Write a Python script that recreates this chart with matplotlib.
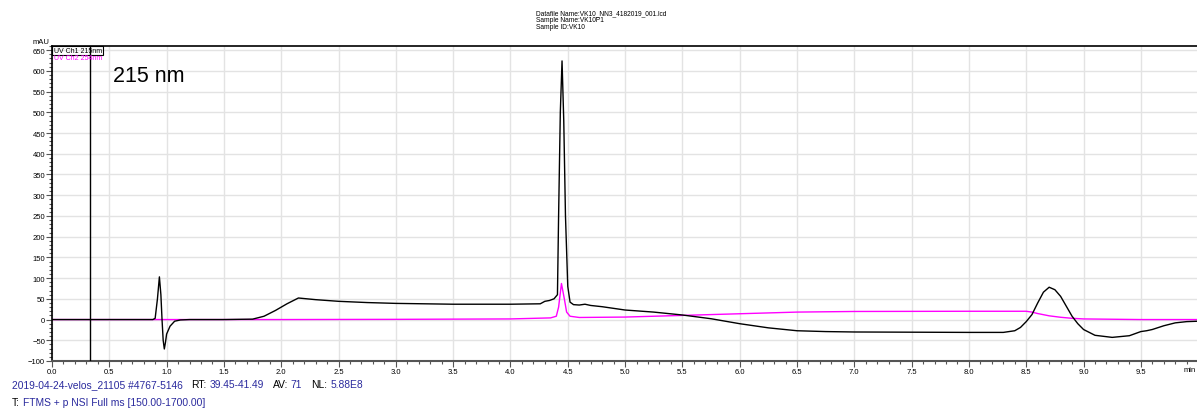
import numpy as np
import matplotlib
matplotlib.use('Agg')
import matplotlib.pyplot as plt
from matplotlib.ticker import MultipleLocator
from matplotlib.patches import Rectangle

plt.rcParams['font.family'] = ['Liberation Sans', 'DejaVu Sans']

# UV Ch1 215nm (black)
t215 = [0.0, 0.5, 0.88, 0.90, 0.92, 0.937, 0.95, 0.96, 0.97, 0.98, 0.99, 1.00, 1.03, 1.07, 1.12, 1.2,
        1.5, 1.75, 1.85, 1.95, 2.05, 2.15, 2.3, 2.5, 2.75, 3.0, 3.5, 4.0, 4.26, 4.30, 4.34, 4.38,
        4.41, 4.42, 4.435, 4.45, 4.465, 4.48, 4.50, 4.52, 4.55, 4.60, 4.65, 4.70, 4.80, 5.0, 5.25,
        5.5, 5.75, 6.0, 6.25, 6.5, 6.75, 7.0, 7.5, 8.0, 8.3, 8.4, 8.45, 8.5, 8.55, 8.6, 8.65, 8.7,
        8.75, 8.8, 8.85, 8.9, 8.95, 9.0, 9.1, 9.25, 9.4, 9.5, 9.55, 9.6, 9.7, 9.8, 9.9, 10.0]
v215 = [0, 0, 0, 3, 50, 103, 60, 0, -50, -71, -55, -35, -16, -4, -1, 0,
        0, 1, 8, 22, 38, 52, 48, 44, 41, 39, 37, 37, 38, 44, 46, 50,
        60, 250, 500, 624, 480, 250, 80, 42, 36, 35, 37, 34, 31, 23, 18,
        11, 2, -10, -20, -27, -29, -30, -30.5, -31, -31, -27, -19, -5, 12, 40, 66, 78,
        72, 56, 32, 8, -10, -24, -38, -43, -39, -29, -27, -24, -15, -8, -5, -4]

# UV Ch2 254nm (magenta)
t254 = [0.0, 1.0, 2.0, 3.0, 4.0, 4.35, 4.40, 4.42, 4.445, 4.47, 4.49, 4.52, 4.6, 5.0, 5.5, 6.0,
        6.5, 7.0, 8.0, 8.5, 8.55, 8.6, 8.7, 8.8, 8.9, 9.0, 9.5, 10.0]
v254 = [0, 0, 0, 0.5, 1.5, 4, 8, 30, 87, 50, 18, 8, 5, 6, 10, 14,
        18, 19.5, 20, 20, 18, 14.5, 9, 5.5, 3, 1.5, 0, 0]

header = ['Datafile Name:VK10_NN3_4182019_001.lcd', 'Sample Name:VK10P1', 'Sample ID:VK10']

W, H = 1197, 410
fig = plt.figure(figsize=(W / 100, H / 100), dpi=100)
ax = fig.add_axes([52 / W, 1 - 362 / H, (W - 52) / W, (362 - 47) / H])

ax.plot(t254, v254, color='#ff00ff', lw=1.0, zorder=2)
ax.plot(t215, v215, color='black', lw=1.0, zorder=3)
ax.axvline(0.332, color='black', lw=1.0, zorder=4)

ax.set_xlim(0, 9.99)
ax.set_ylim(-100, 660)
ax.xaxis.set_major_locator(MultipleLocator(0.5))
ax.xaxis.set_minor_locator(MultipleLocator(0.1))
ax.yaxis.set_major_locator(MultipleLocator(50))
ax.yaxis.set_minor_locator(MultipleLocator(10))
ax.xaxis.set_major_formatter(plt.FuncFormatter(lambda v, p: '%.1f' % v))
ax.grid(True, which='major', color='#e3e3e3', lw=1.0, zorder=0)
ax.tick_params(which='both', direction='out', labelsize=5.5, color='#555555', width=0.8)
ax.tick_params(which='major', length=4)
ax.tick_params(which='minor', length=2)
ax.tick_params(axis='x', pad=1)
ax.tick_params(axis='y', pad=1)
ax.spines['right'].set_visible(False)
for s in ['left', 'top']:
    ax.spines[s].set_color('black')
    ax.spines[s].set_linewidth(1.2)
ax.spines['bottom'].set_color('#555555')
ax.spines['bottom'].set_linewidth(1.5)

# legend box
ax.add_patch(Rectangle((0, 1 - 9 / 315), 51 / 1145, 9 / 315, transform=ax.transAxes,
                       fill=False, edgecolor='black', lw=0.8, zorder=5, clip_on=False))
ax.text(1.5 / 1145, 1 - 4.5 / 315, 'UV Ch1 215nm', transform=ax.transAxes, fontsize=5.0,
        color='black', va='center', ha='left', zorder=6)
ax.text(1.5 / 1145, 1 - 12 / 315, 'UV Ch2 254nm', transform=ax.transAxes, fontsize=5.0,
        color='#ff00ff', va='center', ha='left', zorder=6)
ax.text(61 / 1145, 1 - 30 / 315, '215 nm', transform=ax.transAxes, fontsize=15.5,
        color='black', va='center', ha='left')

fig.text(33 / W, 1 - 42 / H, 'mAU', fontsize=5.5, va='center', ha='left')
fig.text(1190 / W, 1 - 371 / H, 'min', fontsize=5.5, va='center', ha='center')

# header
for i, s in enumerate(header):
    fig.text(536 / W, 1 - (14 + 6.7 * i) / H, s, fontsize=4.8, va='center', ha='left')

# footer, pieces chained left to right
blue = '#2b2b9e'
row1 = [('2019-04-24-velos_21105 #4767-5146', blue, 8), ('RT:', 'black', 3),
        ('39.45-41.49', blue, 9), ('AV:', 'black', 3), ('71', blue, 9),
        ('NL:', 'black', 3), ('5.88E8', blue, 0)]
row2 = [('T:', 'black', 3), ('FTMS + p NSI Full ms [150.00-1700.00]', blue, 0)]
renderer = fig.canvas.get_renderer()
for ypix, row in [(385, row1), (403, row2)]:
    x = 12
    for s, c, gap in row:
        t = fig.text(x / W, 1 - ypix / H, s, fontsize=7.4, color=c, va='center', ha='left')
        x = t.get_window_extent(renderer).x1 + gap

fig.savefig('out.png', dpi=100)
